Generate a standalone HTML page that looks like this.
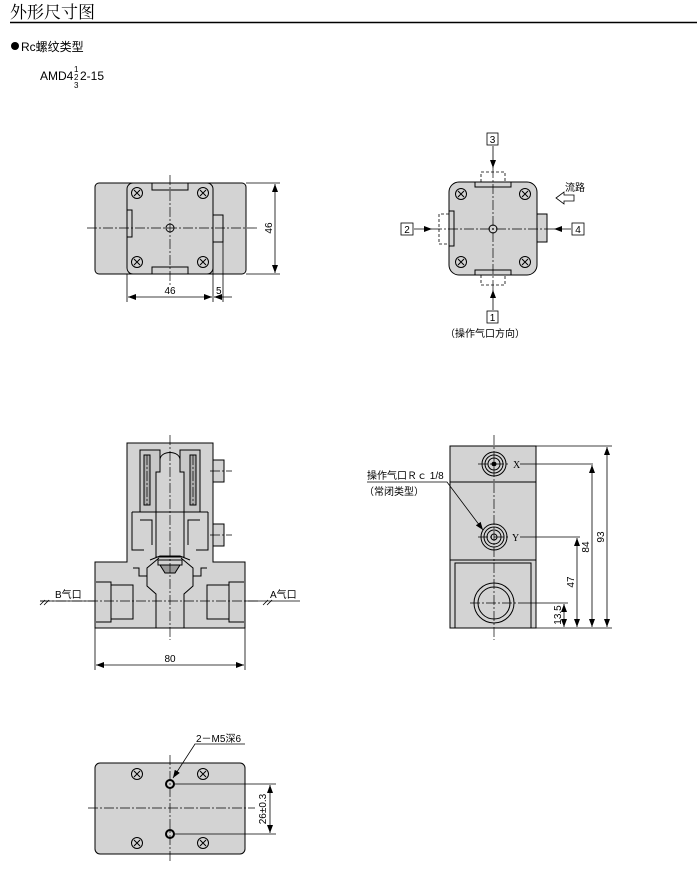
<!DOCTYPE html>
<html><head><meta charset="utf-8"><style>
html,body{margin:0;padding:0;background:#fff;}
svg{display:block;}
text{font-family:"Liberation Sans","Noto Sans CJK SC",sans-serif;fill:#000;}
.s{font-family:"Liberation Serif","Noto Serif CJK SC",serif;}
</style></head><body>
<svg width="700" height="876" viewBox="0 0 700 876" xmlns="http://www.w3.org/2000/svg">
<defs>
<marker id="a" markerWidth="8" markerHeight="6" refX="8" refY="3" orient="auto-start-reverse" markerUnits="userSpaceOnUse"><path d="M0,0 L8,3 L0,6z" fill="#000"/></marker>
<g id="scr"><circle r="5.5" fill="none" stroke="#000" stroke-width="1"/><path d="M-3,-3L3,3M3,-3L-3,3" stroke="#000" stroke-width="1"/></g>
</defs>
<text x="10" y="18" font-size="17" style="font-family:'Noto Serif CJK SC',serif">外形尺寸图</text>
<line x1="10" y1="22.5" x2="697" y2="22.5" stroke="#000" stroke-width="1.5"/>
<circle cx="15" cy="46" r="4" fill="#000"/>
<text x="21" y="51" font-size="12">Rc螺纹类型</text>
<text x="40" y="80" font-size="12">AMD4</text>
<text x="74" y="72" font-size="8">1</text><text x="74" y="80" font-size="8">2</text><text x="74" y="88" font-size="8">3</text>
<text x="80" y="80" font-size="12">2-15</text>

<!-- View 1 -->
<g stroke="#000" stroke-width="1" fill="#d3d3d3">
<rect x="95" y="183" width="151" height="91" rx="4"/>
<rect x="127" y="183" width="86" height="91" rx="6"/>
<rect x="213" y="215" width="10" height="27" fill="#d3d3d3"/>
<path d="M152,183v7h36v-7M152,274v-7h36v7M127,210h5v27h-5" fill="none"/>
<circle cx="170" cy="228" r="4" fill="none"/>
</g>
<use href="#scr" x="137" y="193"/><use href="#scr" x="203" y="193"/><use href="#scr" x="137" y="262"/><use href="#scr" x="203" y="262"/>
<g stroke="#000" stroke-width="0.7" stroke-dasharray="10,2,2,2" fill="none"><line x1="170" y1="175" x2="170" y2="285"/><line x1="87" y1="228" x2="258" y2="228"/></g>
<g stroke="#000" stroke-width="0.8" fill="none">
<line x1="246" y1="183" x2="280" y2="183"/><line x1="246" y1="274" x2="280" y2="274"/>
<line x1="275" y1="184" x2="275" y2="273" marker-start="url(#a)" marker-end="url(#a)"/>
<line x1="127" y1="274" x2="127" y2="302"/><line x1="213" y1="242" x2="213" y2="302"/><line x1="223" y1="242" x2="223" y2="302"/>
<line x1="128" y1="297" x2="212" y2="297" marker-start="url(#a)" marker-end="url(#a)"/>
<line x1="214" y1="297" x2="232" y2="297" marker-start="url(#a)"/>
</g>
<text x="170" y="294" font-size="10" text-anchor="middle">46</text>
<text x="216" y="294" font-size="10">5</text>
<text x="272" y="228" font-size="10" text-anchor="middle" transform="rotate(-90 272 228)">46</text>

<!-- View 2 -->
<g stroke="#000" stroke-width="1" fill="#d3d3d3">
<rect x="537" y="214" width="10" height="28"/>
<rect x="449" y="182" width="88" height="93" rx="10"/>
<path d="M475,182v5h36v-5M475,275v-5h36v5M449,211h5v35h-5" fill="none"/>
<circle cx="493" cy="229" r="4" fill="none"/>
</g>
<g stroke="#000" stroke-width="0.8" stroke-dasharray="3,2" fill="none">
<path d="M481,182v-10h24v10M481,275v10h24v-10M449,214h-10v30h10"/>
</g>
<use href="#scr" x="461" y="194"/><use href="#scr" x="525" y="194"/><use href="#scr" x="461" y="262"/><use href="#scr" x="525" y="262"/>
<g stroke="#000" stroke-width="0.7" stroke-dasharray="10,2,2,2" fill="none"><line x1="493" y1="168" x2="493" y2="290"/><line x1="432" y1="229" x2="556" y2="229"/></g>
<g stroke="#000" stroke-width="0.8" fill="none">
<line x1="493" y1="146" x2="493" y2="168" marker-end="url(#a)"/>
<line x1="493" y1="310" x2="493" y2="290" marker-end="url(#a)"/>
<line x1="414" y1="229" x2="432" y2="229" marker-end="url(#a)"/>
<line x1="571" y1="229" x2="554" y2="229" marker-end="url(#a)"/>
<rect x="487" y="133" width="11" height="12" fill="#fff"/><rect x="401" y="223" width="12" height="12" fill="#fff"/>
<rect x="572" y="223" width="12" height="12" fill="#fff"/><rect x="487" y="311" width="11" height="12" fill="#fff"/>
<path d="M556,198l8,-6v3h10v6h-10v3z" fill="#fff"/>
</g>
<text x="492.5" y="143" font-size="10" text-anchor="middle">3</text>
<text x="407" y="233" font-size="10" text-anchor="middle">2</text>
<text x="578" y="233" font-size="10" text-anchor="middle">4</text>
<text x="492.5" y="321" font-size="10" text-anchor="middle">1</text>
<text x="565" y="191" font-size="10">流路</text>
<text x="485" y="337" font-size="10" text-anchor="middle">（操作气口方向）</text>

<!-- Front section -->
<g stroke="#000" stroke-width="1" fill="#d3d3d3">
<path d="M95,562h32v-119h86v17h10v22h-10v42h10v22h-10v16h32v66h-150z"/>
<rect x="213" y="460" width="11" height="22"/><rect x="213" y="524" width="11" height="22"/>
<path d="M96,582h15v40h-15M244,582h-15v40h15" fill="none"/>
<path d="M111,585h22v34h-22M229,585h-22v34h22" fill="none"/>
<path d="M133,568h6v8h8v-8l12,-10M207,568h-6v8h-8v-8l-12,-10" fill="none"/>
<path d="M147,576v10l9,8v34M193,576v10l-9,8v34" fill="none"/>
<path d="M140,450h20v22h-4v40h-16zM200,450h-20v22h4v40h16z" fill="#c8c8c8"/>
<path d="M144,455h6v50h-6zM190,455h6v50h-6z" fill="#aaa"/>
<path d="M160,460c0,-10 20,-10 20,0v12h4v40h-28v-40h4z" fill="#d3d3d3"/>
<path d="M132,512h76M132,512v38h12M208,512v38h-12M140,520h12v25M200,520h-12v25" fill="none"/>
<path d="M156,512h28v45h-28z" fill="#d3d3d3"/>
<path d="M150,560l10,-4h20l10,4" fill="none"/>
<path d="M160,565h20l-5,8h-10z" fill="#999"/>
<path d="M158,560h24v5h-24z" fill="none"/>
</g>
<g stroke="#000" stroke-width="0.7" stroke-dasharray="10,2,2,2" fill="none"><line x1="170" y1="435" x2="170" y2="640"/><line x1="40" y1="601" x2="260" y2="601"/><line x1="147" y1="455" x2="147" y2="505"/><line x1="193" y1="455" x2="193" y2="505"/><line x1="210" y1="471" x2="232" y2="471"/><line x1="210" y1="535" x2="232" y2="535"/></g>
<g stroke="#000" stroke-width="0.8" fill="none">
<line x1="40" y1="601" x2="95" y2="601"/><line x1="245" y1="601" x2="300" y2="601"/>
<path d="M40,605l5,-5M44,605l5,-5M263,605l5,-5M267,605l5,-5"/>
<line x1="95" y1="628" x2="95" y2="670"/><line x1="245" y1="628" x2="245" y2="670"/>
<line x1="96" y1="665" x2="244" y2="665" marker-start="url(#a)" marker-end="url(#a)"/>
</g>
<text x="55" y="598" font-size="10">B气口</text>
<text x="270" y="598" font-size="10">A气口</text>
<text x="170" y="662" font-size="10" text-anchor="middle">80</text>

<!-- Side view -->
<g stroke="#000" stroke-width="1" fill="#d3d3d3">
<rect x="450" y="446" width="86" height="182"/>
<line x1="450" y1="482" x2="536" y2="482"/><line x1="450" y1="560" x2="536" y2="560"/>
<rect x="455" y="563" width="76" height="65"/>
<circle cx="494" cy="603" r="20" fill="none"/><circle cx="494" cy="603" r="16" fill="none"/>
<circle cx="494" cy="464" r="12" fill="none"/><circle cx="494" cy="464" r="9" fill="none"/><circle cx="494" cy="464" r="6" fill="none"/><circle cx="494" cy="464" r="2" fill="#000"/>
<circle cx="494" cy="537" r="13" fill="none"/><circle cx="494" cy="537" r="10" fill="none"/><circle cx="494" cy="537" r="7" fill="none"/><circle cx="494" cy="537" r="3" fill="none"/>
</g>
<g stroke="#000" stroke-width="0.7" stroke-dasharray="10,2,2,2" fill="none"><line x1="494" y1="435" x2="494" y2="640"/><line x1="478" y1="464" x2="510" y2="464"/><line x1="478" y1="537" x2="510" y2="537"/><line x1="470" y1="603" x2="518" y2="603"/></g>
<g stroke="#000" stroke-width="0.8" fill="none">
<line x1="520" y1="464" x2="593" y2="464"/><line x1="520" y1="537" x2="580" y2="537"/><line x1="518" y1="603" x2="568" y2="603"/>
<line x1="536" y1="446" x2="612" y2="446"/><line x1="536" y1="628" x2="612" y2="628"/>
<line x1="564" y1="604" x2="564" y2="627" marker-start="url(#a)" marker-end="url(#a)"/>
<line x1="577" y1="538" x2="577" y2="627" marker-start="url(#a)" marker-end="url(#a)"/>
<line x1="592" y1="465" x2="592" y2="627" marker-start="url(#a)" marker-end="url(#a)"/>
<line x1="607" y1="447" x2="607" y2="627" marker-start="url(#a)" marker-end="url(#a)"/>
<path d="M367,482h80l36,48" marker-end="url(#a)"/>
</g>
<text x="513" y="468" font-size="10" class="s">X</text>
<text x="512" y="541" font-size="10" class="s">Y</text>
<text x="561" y="615" font-size="10" text-anchor="middle" transform="rotate(-90 561 615)">13.5</text>
<text x="574" y="582" font-size="10" text-anchor="middle" transform="rotate(-90 574 582)">47</text>
<text x="589" y="547" font-size="10" text-anchor="middle" transform="rotate(-90 589 547)">84</text>
<text x="604" y="537" font-size="10" text-anchor="middle" transform="rotate(-90 604 537)">93</text>
<text x="367" y="479" font-size="10">操作气口Ｒｃ 1/8</text>
<text x="364" y="495" font-size="10">（常闭类型）</text>

<!-- Bottom view -->
<g stroke="#000" stroke-width="1" fill="#d3d3d3">
<rect x="95" y="763" width="150" height="91" rx="5"/>
</g>
<use href="#scr" x="137" y="774"/><use href="#scr" x="203" y="774"/><use href="#scr" x="137" y="843"/><use href="#scr" x="203" y="843"/>
<g stroke="#000" stroke-width="2" fill="none"><circle cx="170" cy="784" r="4"/><circle cx="170" cy="834" r="4"/></g>
<g stroke="#000" stroke-width="0.7" stroke-dasharray="10,2,2,2" fill="none"><line x1="170" y1="755" x2="170" y2="862"/><line x1="88" y1="808" x2="255" y2="808"/></g>
<g stroke="#000" stroke-width="0.8" fill="none">
<line x1="175" y1="784" x2="276" y2="784"/><line x1="175" y1="834" x2="276" y2="834"/>
<line x1="270" y1="785" x2="270" y2="833" marker-start="url(#a)" marker-end="url(#a)"/>
<path d="M245,744h-50l-22,34" marker-end="url(#a)"/>
</g>
<text x="196" y="742" font-size="10">2－M5深6</text>
<text x="266" y="809" font-size="10" text-anchor="middle" transform="rotate(-90 266 809)">26±0.3</text>
</svg>
</body></html>
